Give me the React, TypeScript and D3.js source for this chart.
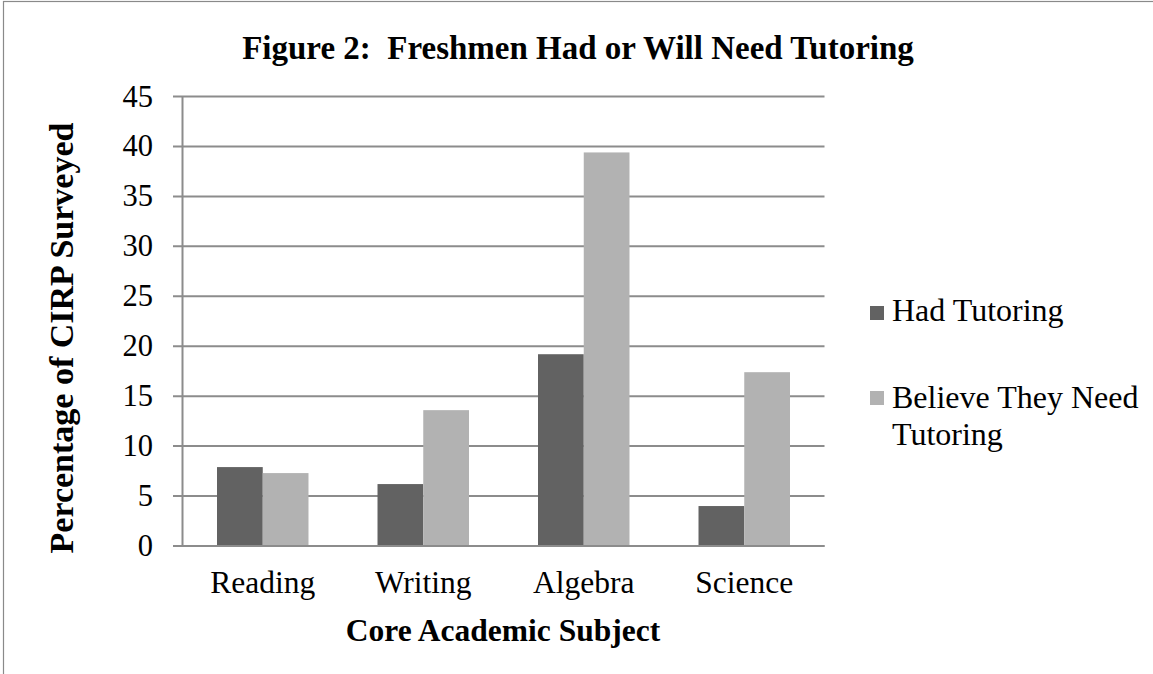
import React from "react";
import * as d3 from "d3";

const categories = ["Reading", "Writing", "Algebra", "Science"];
const seriesNames = ["Had Tutoring", "Believe They Need Tutoring"];
const hadTutoring = [7.9, 6.2, 19.2, 4.0];
const believeNeed = [7.3, 13.6, 39.4, 17.4];
const yTicks = [0, 5, 10, 15, 20, 25, 30, 35, 40, 45];
const colors = ["#626262", "#b2b2b2"];

const W = 1153;
const H = 674;
const FONT = "'Liberation Serif', 'Times New Roman', serif";

export default function App() {
  const left = 182.5;
  const right = 824.5;
  const top = 96.5;
  const bottom = 546;

  const y = d3.scaleLinear().domain([0, 45]).range([bottom, top]);
  const x0 = d3
    .scaleBand<string>()
    .domain(categories)
    .range([left, right])
    .paddingInner(0.43)
    .paddingOuter(0.215);
  const x1 = d3
    .scaleBand<string>()
    .domain(seriesNames)
    .range([0, x0.bandwidth()]);
  const series = [hadTutoring, believeNeed];

  return (
    <svg
      width={W}
      height={H}
      style={{ position: "absolute", left: 0, top: 0, background: "#fff" }}
      fontFamily={FONT}
    >
      <rect x={0} y={0} width={W} height={H} fill="#fff" />
      {/* outer frame */}
      <rect x={3.5} y={1.5} width={W + 10} height={H + 10} fill="none" stroke="#8a8a8a" strokeWidth={1.2} />

      {/* title */}
      <text x={578} y={59} textAnchor="middle" fontSize={33} fontWeight="bold" style={{ whiteSpace: "pre" }}>
        {"Figure 2:  Freshmen Had or Will Need Tutoring"}
      </text>

      {/* gridlines + ticks */}
      {yTicks.map((t) => (
        <g key={t}>
          <line x1={173} x2={right} y1={y(t)} y2={y(t)} stroke="#8c8c8c" strokeWidth={2} />
          <text x={153} y={y(t) + 10} textAnchor="end" fontSize={30.5}>
            {t}
          </text>
        </g>
      ))}
      {/* y axis line */}
      <line x1={left} x2={left} y1={top} y2={bottom + 1} stroke="#8c8c8c" strokeWidth={2} />

      {/* bars */}
      {categories.map((c, i) => (
        <g key={c} transform={`translate(${x0(c)},0)`}>
          {seriesNames.map((s, j) => (
            <rect
              key={s}
              x={x1(s)}
              y={y(series[j][i])}
              width={x1.bandwidth()}
              height={bottom - y(series[j][i])}
              fill={colors[j]}
            />
          ))}
        </g>
      ))}
      {/* baseline on top */}
      <line x1={173} x2={right} y1={bottom} y2={bottom} stroke="#8c8c8c" strokeWidth={2} />

      {/* category labels */}
      {categories.map((c) => (
        <text key={c} x={(x0(c) as number) + x0.bandwidth() / 2} y={593} textAnchor="middle" fontSize={31.5}>
          {c}
        </text>
      ))}

      {/* axis titles */}
      <text x={503} y={641} textAnchor="middle" fontSize={31.5} fontWeight="bold">
        Core Academic Subject
      </text>
      <text
        transform={`translate(73,338) rotate(-90)`}
        textAnchor="middle"
        fontSize={34}
        fontWeight="bold"
      >
        Percentage of CIRP Surveyed
      </text>

      {/* legend */}
      <rect x={870} y={306} width={14} height={14} fill={colors[0]} />
      <text x={892} y={321} fontSize={32}>
        {seriesNames[0]}
      </text>
      <rect x={870} y={391} width={14} height={14} fill={colors[1]} />
      <text x={892} y={408} fontSize={32}>
        <tspan x={892}>Believe They Need</tspan>
        <tspan x={892} dy={37}>
          Tutoring
        </tspan>
      </text>
    </svg>
  );
}
